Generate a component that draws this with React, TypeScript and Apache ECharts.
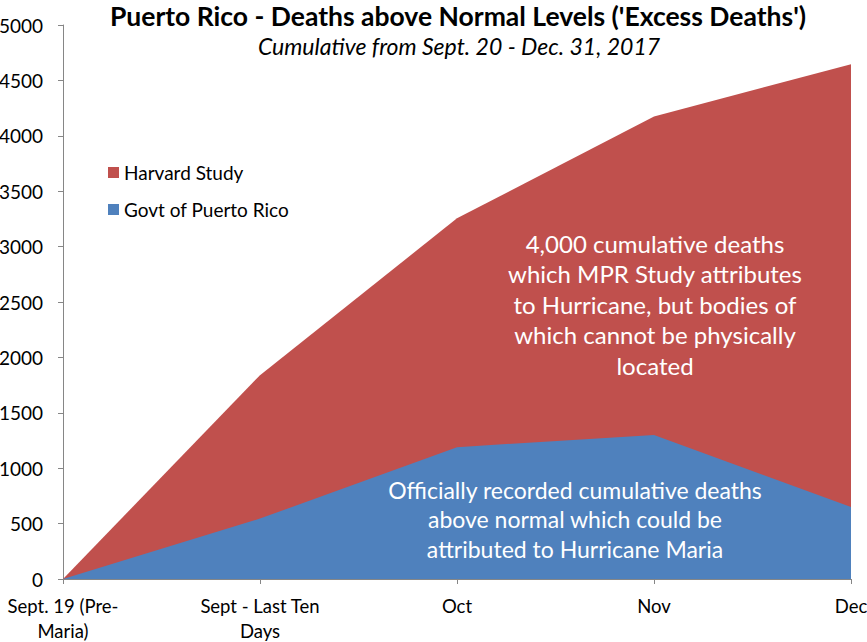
import { useEffect, useRef } from "react";
import * as echarts from "echarts";

const categories = ["Sept. 19 (Pre-\nMaria)", "Sept - Last Ten\nDays", "Oct", "Nov", "Dec"];
const harvardDeaths = [0, 1840, 3255, 4175, 4645];
const govtDeaths = [0, 545, 1190, 1300, 650];

const FONT = "Lato, 'Open Sans', sans-serif";

export default function App() {
    const chartRef = useRef<HTMLDivElement | null>(null);

    useEffect(() => {
        if (!chartRef.current) return;
        const chart = echarts.init(chartRef.current, undefined, { renderer: "svg" });

        const option: echarts.EChartsOption = {
            animation: false,
            textStyle: { fontFamily: FONT },
            title: [
                {
                    text: "Puerto Rico - Deaths above Normal Levels ('Excess Deaths')",
                    left: 453,
                    top: -3,
                    textAlign: "center",
                    textStyle: { fontSize: 26.5, fontWeight: "bold", color: "#000", fontFamily: FONT },
                },
                {
                    text: "Cumulative from Sept. 20 - Dec. 31, 2017",
                    left: 454,
                    top: 29,
                    textAlign: "center",
                    textStyle: { fontSize: 23, fontStyle: "italic", fontWeight: "normal", color: "#000", fontFamily: FONT },
                },
            ],
            legend: {
                orient: "vertical",
                left: 103,
                top: 158,
                itemWidth: 11,
                itemHeight: 11,
                itemGap: 18,
                icon: "rect",
                textStyle: { fontSize: 19, color: "#000", fontFamily: FONT },
                data: ["Harvard Study", "Govt of Puerto Rico"],
            },
            grid: { left: 63, right: 16, top: 25, bottom: 63, outerBoundsMode: "none" } as any,
            xAxis: {
                type: "category",
                boundaryGap: false,
                data: categories,
                axisLine: { lineStyle: { color: "#868686" } },
                axisTick: { show: true, length: 5, lineStyle: { color: "#868686" } },
                axisLabel: { color: "#000", fontSize: 18.5, margin: 14, lineHeight: 25, interval: 0 },
            },
            yAxis: {
                type: "value",
                min: 0,
                max: 5000,
                interval: 500,
                axisLine: { show: true, lineStyle: { color: "#868686" } },
                axisTick: { show: true, length: 5, lineStyle: { color: "#868686" } },
                axisLabel: { color: "#000", fontSize: 19, margin: 20, formatter: (v: number) => String(v) },
                splitLine: { show: false },
            },
            series: [
                {
                    name: "Harvard Study",
                    type: "line",
                    data: harvardDeaths,
                    symbol: "none",
                    lineStyle: { width: 0 },
                    itemStyle: { color: "#C0504D" },
                    areaStyle: { color: "#C0504D", opacity: 1 },
                    z: 1,
                },
                {
                    name: "Govt of Puerto Rico",
                    type: "line",
                    data: govtDeaths,
                    symbol: "none",
                    lineStyle: { width: 0 },
                    itemStyle: { color: "#4F81BD" },
                    areaStyle: { color: "#4F81BD", opacity: 1 },
                    z: 2,
                },
            ],
            graphic: [
                {
                    type: "text",
                    x: 655,
                    y: 228,
                    z: 10,
                    style: {
                        text: "4,000 cumulative deaths\nwhich MPR Study attributes\nto Hurricane, but bodies of\nwhich cannot be physically\nlocated",
                        fill: "#fff",
                        fontSize: 24,
                        lineHeight: 30.5,
                        fontFamily: FONT,
                        align: "center",
                    },
                },
                {
                    type: "text",
                    x: 575,
                    y: 475,
                    z: 10,
                    style: {
                        text: "Officially recorded cumulative deaths\nabove normal which could be\nattributed to Hurricane Maria",
                        fill: "#fff",
                        fontSize: 23,
                        lineHeight: 29.5,
                        fontFamily: FONT,
                        align: "center",
                    },
                },
            ],
        };

        chart.setOption(option);
        return () => chart.dispose();
    }, []);

    return <div ref={chartRef} style={{ width: 867, height: 642, position: "absolute", left: 0, top: 0 }} />;
}
